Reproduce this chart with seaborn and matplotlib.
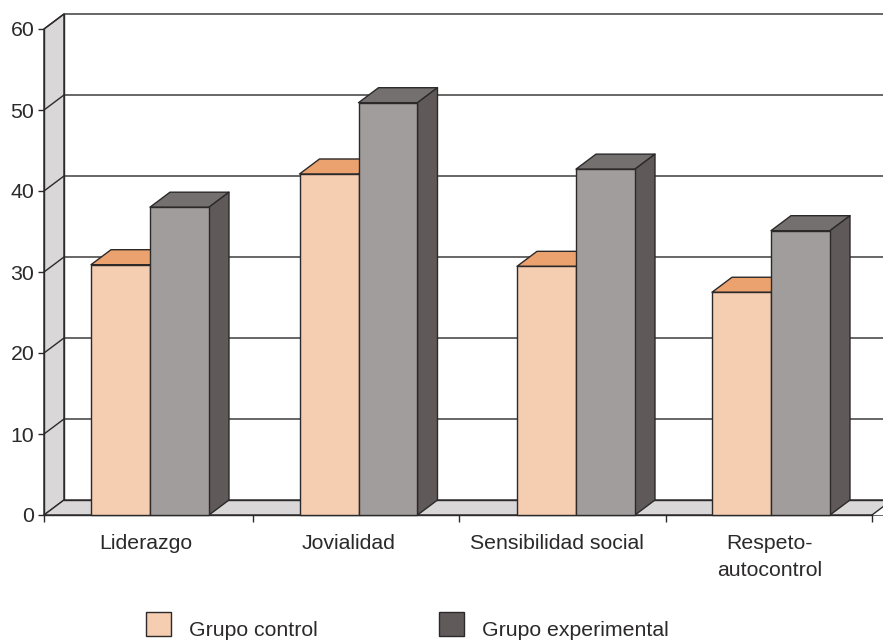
import matplotlib
matplotlib.use("Agg")
import matplotlib.pyplot as plt
from matplotlib.patches import Patch, Polygon
import numpy as np
import pandas as pd
import seaborn as sns

# Survey scores per dimension and group
categories = ["Liderazgo", "Jovialidad", "Sensibilidad social", "Respeto-\nautocontrol"]
grupo_control = [30.9, 42.1, 30.7, 27.5]
grupo_experimental = [38.0, 50.9, 42.7, 35.1]
series_names = ["Grupo control", "Grupo experimental"]
y_ticks = [0, 10, 20, 30, 40, 50, 60]

# Layout, in pixels of the 883x641 canvas
W, H = 883, 641
LEFT, BOTTOM, TOP = 44, 515, 29
CAT_PX = 207.0
UNIT_PX = (BOTTOM - TOP) / 60
DEPTH_PX_X, DEPTH_PX_Y = 20, 15
GROUP_SHIFT_PX = [2.5, 4.0, 14.5, 2.5]
LABEL_SHIFT_PX = [-1.5, -5.5, -4.5, 1.5]
TICK_SHIFT_PX = [0, 2, 1, 1, 0]

INK = "#2b2929"
WALL = "#d9d7d8"
FRONT = ["#f5cdb0", "#a19d9c"]
ROOF = ["#eca26f", "#757070"]
SIDE = ["#d9a27c", "#5f5a59"]
SWATCH = ["#f5cdb0", "#605b5a"]
FONT_SIZE = 15.3

sns.set_style("white")
plt.rcParams["font.family"] = ["Liberation Sans", "DejaVu Sans"]
plt.rcParams["text.color"] = INK

df = pd.DataFrame({
    "categoria": categories * 2,
    "grupo": [series_names[0]] * 4 + [series_names[1]] * 4,
    "valor": grupo_control + grupo_experimental,
})

fig = plt.figure(figsize=(W / 100, H / 100), dpi=100, facecolor="white")
ax = fig.add_axes([LEFT / W, (H - BOTTOM) / H, (W - LEFT) / W, (BOTTOM - TOP) / H])
ax.patch.set_visible(False)

sns.barplot(data=df, x="categoria", y="valor", hue="grupo", order=categories,
            hue_order=series_names, palette=FRONT, width=0.57, gap=0, dodge=True,
            saturation=1, edgecolor=INK, linewidth=1.0, legend=False, ax=ax)
bars = list(ax.patches)

ax.set_xlim(-0.5, -0.5 + (W - LEFT) / CAT_PX)
ax.set_ylim(0, 60)
dx, dy = DEPTH_PX_X / CAT_PX, DEPTH_PX_Y / UNIT_PX
x0 = -0.5
x1 = 3.5
far = ax.get_xlim()[1] + dx


def poly(points, face, z):
    ax.add_patch(Polygon(points, closed=True, facecolor=face, edgecolor=INK,
                         linewidth=1.0, clip_on=False, zorder=z, joinstyle="round"))


# Side wall and floor of the box
poly([(x0, 0), (x0 + dx, dy), (x0 + dx, 60 + dy), (x0, 60)], WALL, 0.5)
poly([(x0, 0), (x0 + dx, dy), (far + 1, dy), (x1 + 1, 0)], WALL, 0.5)
ax.add_patch(Polygon([(x1, 0), (x1 + dx, dy), (x1 + 1, dy), (x1 + 1, 0)], closed=True,
                     facecolor="white", edgecolor="none", clip_on=False, zorder=0.6))
ax.plot([x1, x1 + dx], [0, dy], color=INK, lw=1.0, clip_on=False, zorder=0.7)
ax.plot([x0 + dx, far], [dy, dy], color=INK, lw=1.0, clip_on=False, zorder=0.7)
ax.plot([x0, x1], [0, 0], color=INK, lw=1.0, clip_on=False, zorder=0.7)

# Gridlines running along the back and across the side wall
for v in y_ticks[1:]:
    ax.plot([x0, x0 + dx, far], [v, v + dy, v + dy], color=INK, lw=1.0,
            clip_on=False, zorder=0.8)

# Extrude each seaborn bar into a box
for i, bar in enumerate(bars):
    series, group = i // 4, i % 4
    bar.set_x(bar.get_x() + GROUP_SHIFT_PX[group] / CAT_PX)
    x, w, h = bar.get_x(), bar.get_width(), bar.get_height()
    z = 2 + series * 2
    poly([(x, h), (x + dx, h + dy), (x + w + dx, h + dy), (x + w, h)], ROOF[series], z)
    poly([(x + w, 0), (x + w + dx, dy), (x + w + dx, h + dy), (x + w, h)], SIDE[series], z)
    bar.set_zorder(z + 0.5)
    bar.set_clip_on(False)

# Axes and ticks
for s in ax.spines.values():
    s.set_visible(False)
ax.plot([x0, x0], [0, 60], color=INK, lw=1.0, clip_on=False, zorder=0.9)
ax.plot([x0 + dx, x0 + dx], [dy, 60 + dy], color=INK, lw=1.0, clip_on=False, zorder=0.9)
ax.set_xlabel("")
ax.set_ylabel("")
ax.set_yticks(y_ticks)
ax.tick_params(axis="y", left=True, length=4.5, width=1.0, color=INK, labelsize=FONT_SIZE,
               labelcolor=INK, pad=2.5)
ax.set_xticks(np.arange(-0.5, 4.0) + np.array(TICK_SHIFT_PX) / CAT_PX)
ax.set_xticklabels([])
ax.tick_params(axis="x", which="major", bottom=True, length=5, width=1.0, color=INK)
label_pos = [c + s / CAT_PX for c, s in zip(range(4), LABEL_SHIFT_PX)]
ax.set_xticks(label_pos, categories, minor=True)
ax.tick_params(axis="x", which="minor", bottom=False, length=0, labelsize=FONT_SIZE,
               labelcolor=INK, pad=13.5)
for t in ax.get_xticklabels(minor=True):
    t.set_linespacing(1.52)

# Legend below the plot, with the labels sitting a little lower than the swatches
handles = [Patch(facecolor=SWATCH[k], edgecolor=INK, linewidth=1.0, label=series_names[k])
           for k in range(2)]
leg = fig.legend(handles=handles, ncols=2, frameon=False, fontsize=FONT_SIZE, loc="lower left",
                 bbox_to_anchor=(146 / W, (H - 636) / H), borderaxespad=0, borderpad=0,
                 handlelength=1.18, handleheight=1.34, handletextpad=0.85,
                 columnspacing=5.7)
for t in leg.get_texts():
    t.set_position((0, -5))

fig.savefig("out.png", dpi=100, facecolor="white")
